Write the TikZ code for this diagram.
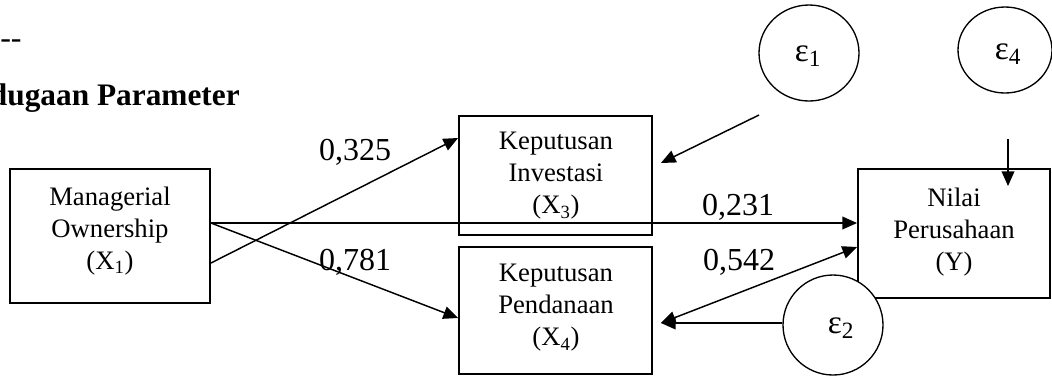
\documentclass[tikz,border=0pt]{standalone}
\usepackage{fontspec}
\setmainfont{Liberation Serif}
\usetikzlibrary{arrows.meta,shapes.geometric}
\begin{document}
\begin{tikzpicture}[x=0.75pt,y=-0.75pt,
  box/.style={draw,line width=1.4pt,inner sep=0pt},
  boxtext/.style={align=center,font=\fontsize{20}{24}\selectfont,inner sep=0pt},
  coef/.style={font=\fontsize{24}{28}\selectfont,inner sep=0pt,anchor=base},
  err/.style={draw,ellipse,line width=1pt,inner sep=0pt,fill=white},
  errtext/.style={font=\fontsize{25}{28}\selectfont,inner sep=0pt},
  arr/.style={line width=1.1pt,-{Triangle[length=11pt,width=9.5pt]}},
  darr/.style={line width=1.1pt,{Triangle[length=11pt,width=9.5pt]}-{Triangle[length=11pt,width=9.5pt]}}
]
\useasboundingbox (0,0) rectangle (1052,376);

\node[inner sep=0pt,anchor=base west,font=\fontsize{24}{28}\selectfont] (dash) at (0,48) {-{}-};
\node[inner sep=0pt,anchor=base east,font=\fontsize{23.5}{28}\selectfont\bfseries] (title) at (240,105) {dugaan Parameter};

% boxes
\node[box,minimum width=150pt,minimum height=100.5pt] (x1) at (110,236) {};
\node[boxtext] (x1t) at (110,231) {Managerial\\Ownership\\(X\textsubscript{1})};
\node[box,minimum width=144.75pt,minimum height=89.25pt] (x3) at (555.5,175.5) {};
\node[boxtext] (x3t) at (556,176) {Keputusan\\Investasi\\(X\textsubscript{3})};
\node[box,minimum width=144.75pt,minimum height=95.25pt] (x4) at (555.5,310.5) {};
\node[boxtext] (x4t) at (556,308) {Keputusan\\Pendanaan\\(X\textsubscript{4})};
\node[box,minimum width=144pt,minimum height=96.75pt] (y) at (954,233.5) {};
\node[boxtext] (yt) at (954,232) {Nilai\\Perusahaan\\(Y)};

% error terms
\node[err,minimum width=75pt,minimum height=72pt] (e1) at (809,53) {};
\node[errtext] (e1t) at (808,56) {ε\textsubscript{1}};
\node[err,minimum width=70.5pt,minimum height=64.5pt] (e4) at (1005,50) {};
\node[errtext] (e4t) at (1008,54) {ε\textsubscript{4}};

\coordinate (e1a) at (759,115);
\coordinate (e4a) at (1008,139);
\coordinate (x4e) at ([xshift=6pt,yshift=-9.375pt]x4.east);

% paths
\draw[arr] ([yshift=9.75pt]x1.east) -- ([yshift=7.875pt]y.west);
\draw[arr] ([yshift=-20.25pt]x1.east) -- ([yshift=28.125pt]x3.west);
\draw[arr] ([yshift=9.75pt]x1.east) -- ([yshift=-5.625pt]x4.west);
\draw[arr] (e1a) -- ([xshift=6pt,yshift=9.375pt]x3.east);
\draw[arr] (e4a) -- ([xshift=40.5pt,yshift=-13.5pt]y.north);
\draw[darr] (x4e) -- ([yshift=-10.125pt]y.west);

% coefficients
\node[coef] (c1) at (355,160) {0,325};
\node[coef] (c2) at (355,270) {0,781};
\node[coef] (c3) at (738,215) {0,231};
\node[coef] (c4) at (739,270) {0,542};

\node[err,minimum width=75pt,minimum height=75pt] (e2) at (833,325) {};
\node[errtext] (e2t) at (841,328) {ε\textsubscript{2}};
\draw[arr] (e2.west |- x4e) -- (x4e);
\end{tikzpicture}
\end{document}
